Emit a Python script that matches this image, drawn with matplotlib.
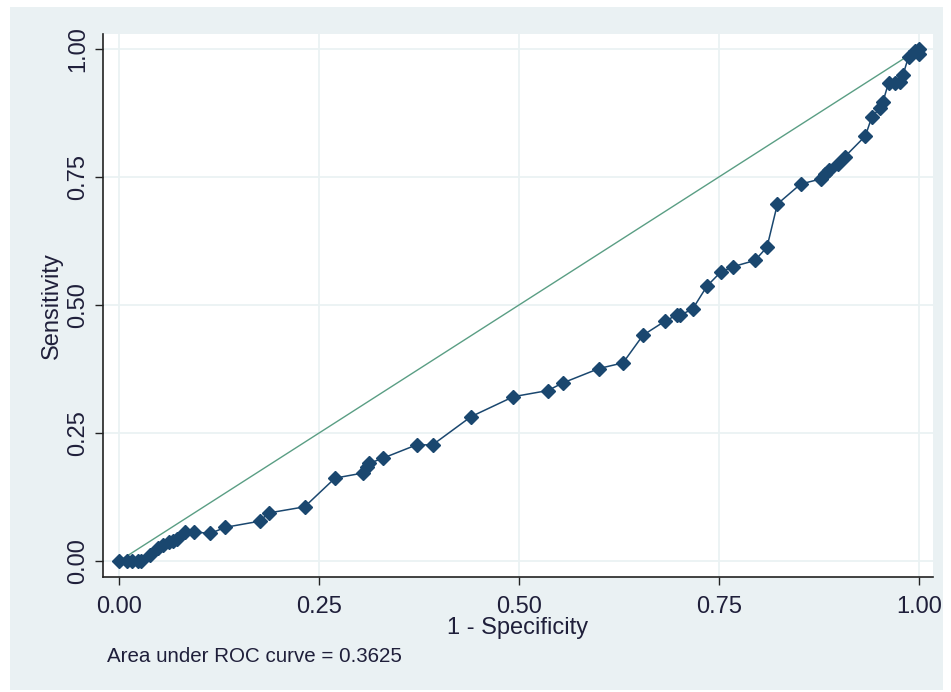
import matplotlib
matplotlib.use("Agg")
import matplotlib.pyplot as plt
from matplotlib.patches import Rectangle

# ROC coordinates: 1 - specificity (x) and sensitivity (y)
fpr = [0.000, 0.010, 0.016, 0.024, 0.028, 0.039, 0.049, 0.055, 0.062, 0.068,
       0.072, 0.082, 0.094, 0.114, 0.133, 0.176, 0.187, 0.232, 0.270, 0.305,
       0.310, 0.313, 0.330, 0.372, 0.392, 0.440, 0.493, 0.536, 0.555, 0.600,
       0.630, 0.655, 0.683, 0.697, 0.701, 0.717, 0.735, 0.752, 0.768, 0.795,
       0.810, 0.823, 0.852, 0.877, 0.883, 0.887, 0.899, 0.907, 0.933, 0.941,
       0.951, 0.955, 0.962, 0.970, 0.976, 0.980, 0.987, 0.995, 1.000, 1.000]
sens = [0.000, 0.000, 0.000, 0.000, 0.000, 0.012, 0.025, 0.031, 0.037, 0.040,
        0.044, 0.057, 0.057, 0.054, 0.066, 0.078, 0.094, 0.106, 0.162, 0.172,
        0.184, 0.191, 0.201, 0.227, 0.227, 0.282, 0.321, 0.333, 0.348, 0.376,
        0.387, 0.441, 0.469, 0.480, 0.480, 0.492, 0.537, 0.564, 0.575, 0.587,
        0.613, 0.697, 0.736, 0.746, 0.755, 0.763, 0.776, 0.789, 0.830, 0.867,
        0.884, 0.897, 0.934, 0.934, 0.936, 0.949, 0.985, 0.996, 1.000, 0.990]
ref_line = [0.0, 1.0]
ticks = [0.00, 0.25, 0.50, 0.75, 1.00]
tick_labels = ["0.00", "0.25", "0.50", "0.75", "1.00"]
auc_text = "Area under ROC curve = 0.3625"

W, H = 951, 692
plt.rcParams['font.family'] = ['Liberation Sans', 'DejaVu Sans']

fig = plt.figure(figsize=(W / 100, H / 100), dpi=100, facecolor="white")
# light graph region behind the plot
fig.patches.append(Rectangle((10 / W, 2 / H), 933 / W, 683 / H,
                             transform=fig.transFigure, facecolor="#eaf1f3",
                             edgecolor="none", zorder=-10))

ax = fig.add_axes([103 / W, (H - 577) / H, 830 / W, 543 / H])
ax.set_facecolor("white")

navy = "#1a476f"
green = "#5a9e84"

ax.plot(ref_line, ref_line, color=green, lw=1.0, zorder=3)
ax.plot(fpr, sens, color=navy, lw=1.1, marker="D", markersize=7,
        markerfacecolor=navy, markeredgecolor=navy, zorder=4)

ax.set_xlim(-0.02, 1.0175)
ax.set_ylim(-0.031, 1.029)
ax.set_xticks(ticks)
ax.set_xticklabels(tick_labels)
ax.set_yticks(ticks)
ax.set_yticklabels(tick_labels, rotation=90, va="center")

ax.grid(True, color="#eaf2f3", lw=1.3)
ax.set_axisbelow(True)
for s in ("top", "right"):
    ax.spines[s].set_visible(False)
for s in ("left", "bottom"):
    ax.spines[s].set_color("#222222")
    ax.spines[s].set_linewidth(1.2)

ax.tick_params(axis="both", direction="out", length=6, width=1.0,
               color="#222222", labelsize=17, labelcolor="#1f1f3a", pad=4)
ax.tick_params(axis="x", pad=8)

ax.set_xlabel("1 - Specificity", fontsize=17, color="#1f1f3a", labelpad=-1)
ax.set_ylabel("Sensitivity", fontsize=17, color="#1f1f3a", labelpad=3)

fig.text(107 / W, 1 - 657 / H, auc_text, fontsize=14.8, color="#1f1f3a",
         va="center", ha="left")

fig.savefig("out.png", dpi=100, facecolor=fig.get_facecolor())
